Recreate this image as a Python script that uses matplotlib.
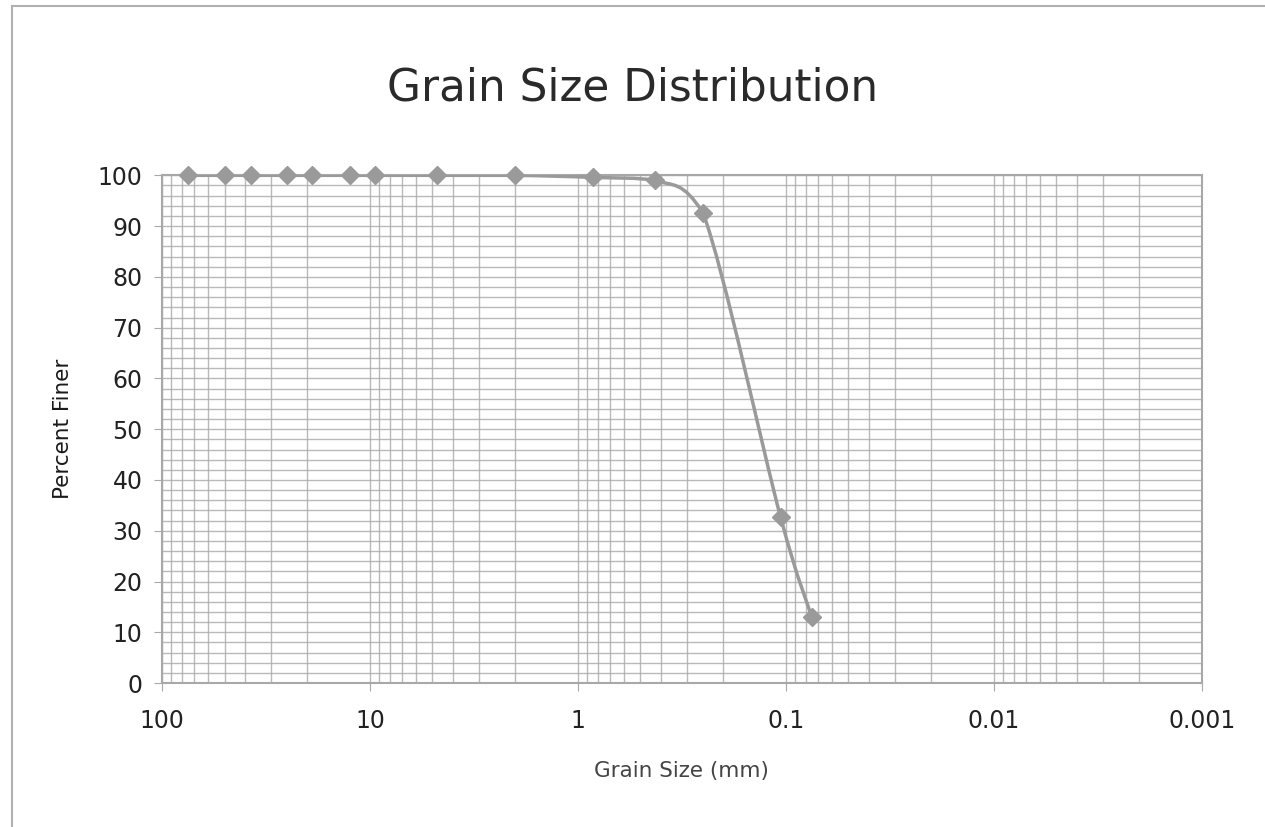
import matplotlib
matplotlib.use("Agg")
import matplotlib.pyplot as plt
import numpy as np
from matplotlib.path import Path
from matplotlib.patches import PathPatch
from matplotlib.ticker import FixedLocator, LogLocator, NullFormatter

# sieve sizes (mm) and percent passing
grain_size_mm = [75, 50, 37.5, 25, 19, 12.5, 9.5, 4.75, 2.0, 0.85, 0.425, 0.25, 0.106, 0.075]
percent_finer = [100, 100, 100, 100, 100, 100, 100, 100, 100, 99.6, 99.0, 92.6, 32.7, 13.0]

x_ticks = [100, 10, 1, 0.1, 0.01, 0.001]
x_tick_labels = ["100", "10", "1", "0.1", "0.01", "0.001"]
y_ticks = [0, 10, 20, 30, 40, 50, 60, 70, 80, 90, 100]

GRID = "#a8a8a8"
LINE = "#9a9a9a"


def smooth_path(xs, ys):
    # Excel-like smoothed line: Catmull-Rom Beziers in log-x space,
    # control points kept inside each segment's y range so it doesn't overshoot
    lx = np.log10(xs)
    y = np.asarray(ys, dtype=float)
    n = len(lx)
    verts = [(xs[0], y[0])]
    codes = [Path.MOVETO]
    for i in range(n - 1):
        p0 = max(i - 1, 0)
        p3 = min(i + 2, n - 1)
        lo, hi = min(y[i], y[i + 1]), max(y[i], y[i + 1])
        c1x = lx[i] + (lx[i + 1] - lx[p0]) / 6
        c1y = np.clip(y[i] + (y[i + 1] - y[p0]) / 6, lo, hi)
        c2x = lx[i + 1] - (lx[p3] - lx[i]) / 6
        c2y = np.clip(y[i + 1] - (y[p3] - y[i]) / 6, lo, hi)
        verts += [(10 ** c1x, c1y), (10 ** c2x, c2y), (xs[i + 1], y[i + 1])]
        codes += [Path.CURVE4] * 3
    return Path(verts, codes)


fig = plt.figure(figsize=(12.65, 8.27), dpi=100)
ax = fig.add_axes([0.128, 0.174, 0.822, 0.614])

ax.set_xscale("log")
ax.set_xlim(100, 0.001)
ax.set_ylim(0, 100)

ax.xaxis.set_major_locator(FixedLocator(x_ticks))
ax.set_xticklabels(x_tick_labels)
ax.xaxis.set_minor_locator(LogLocator(base=10, subs=np.arange(2, 10)))
ax.xaxis.set_minor_formatter(NullFormatter())
ax.set_yticks(y_ticks)
ax.set_yticks(np.arange(0, 101, 2), minor=True)

ax.grid(True, which="both", color=GRID, linewidth=1.0, alpha=0.8)
ax.set_axisbelow(True)

for s in ax.spines.values():
    s.set_color(GRID)
    s.set_linewidth(1.5)

ax.tick_params(axis="both", which="major", length=6, color=GRID, labelsize=17,
               labelcolor="#222222")
ax.tick_params(axis="x", which="major", pad=13)
ax.tick_params(axis="y", which="major", pad=8)
ax.tick_params(which="minor", length=0)

ax.add_patch(PathPatch(smooth_path(grain_size_mm, percent_finer), facecolor="none",
                       edgecolor=LINE, linewidth=2.5, zorder=3))
ax.plot(grain_size_mm, percent_finer, linestyle="none", marker="D", markersize=9,
        color=LINE, zorder=4, clip_on=False)

ax.set_xlabel("Grain Size (mm)", fontsize=15.5, color="#444444", labelpad=20)
ax.set_ylabel("Percent Finer", fontsize=15.5, color="#1a1a1a", labelpad=18)

fig.text(0.5, 0.893, "Grain Size Distribution", ha="center", va="center",
         fontsize=31.5, color="#2a2a2a")

# faint chart-area border (left and top edges only show in the scan)
fig.add_artist(plt.Line2D([0.0095, 0.0095], [0.0, 0.993], color="#b0b0b0", linewidth=1.5))
fig.add_artist(plt.Line2D([0.0095, 1.0], [0.993, 0.993], color="#b0b0b0", linewidth=1.5))

fig.savefig("out.png", dpi=100)
